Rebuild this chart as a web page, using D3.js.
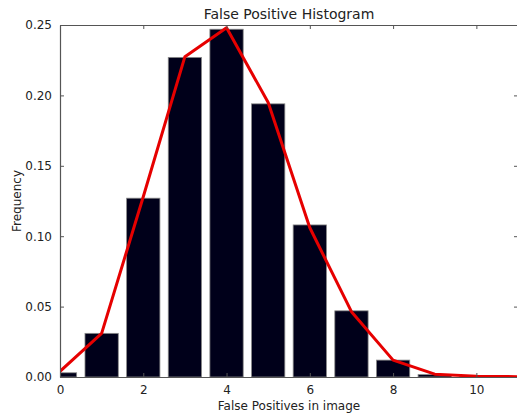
<!DOCTYPE html>
<html>
<head>
<meta charset="utf-8">
<script src="https://cdn.jsdelivr.net/npm/d3@7"></script>
<style>
  body { margin: 0; background: #fff; }
  svg text { font-family: "DejaVu Sans", sans-serif; fill: #222; }
</style>
</head>
<body>
<div id="chart"></div>
<script>
// histogram bins (number of false positives) and their frequencies
var bins = [0, 1, 2, 3, 4, 5, 6, 7, 8, 9, 10];
var barFreq = [0.003, 0.031, 0.127, 0.227, 0.247, 0.194, 0.108, 0.047, 0.012, 0.0017, 0.0004];
// red fitted curve
var fitX = [0, 1, 2, 3, 4, 5, 6, 7, 8, 9, 10, 11];
var fitY = [0.004, 0.031, 0.128, 0.2275, 0.248, 0.195, 0.106, 0.0464, 0.012, 0.002, 0.0006, 0.0002];
var xTicks = [0, 2, 4, 6, 8, 10];
var yTicks = [0, 0.05, 0.10, 0.15, 0.20, 0.25];

var W = 517, H = 416;
var margin = { top: 25, right: -1, bottom: 39, left: 60 },
    width = W - margin.left - margin.right,
    height = H - margin.top - margin.bottom;

var svg = d3.select("#chart").append("svg")
    .attr("width", W).attr("height", H);

var g = svg.append("g")
    .attr("transform", "translate(" + margin.left + "," + margin.top + ")");

var x = d3.scaleLinear().domain([0, 11]).range([0, width]);
var y = d3.scaleLinear().domain([0, 0.25]).range([height, 0]);

svg.append("clipPath").attr("id", "clip")
    .append("rect").attr("width", width).attr("height", height);

var plot = g.append("g").attr("clip-path", "url(#clip)");

// bars, width 0.8 centred on each bin
plot.selectAll("rect.bar")
    .data(bins)
    .enter().append("rect")
    .attr("class", "bar")
    .attr("x", function (d) { return x(d - 0.4); })
    .attr("width", x(0.8) - x(0))
    .attr("y", function (d, i) { return y(barFreq[i]); })
    .attr("height", function (d, i) { return y(0) - y(barFreq[i]); })
    .attr("fill", "#00001a")
    .attr("stroke", "#8a8a8a")
    .attr("stroke-width", 0.8);

var line = d3.line()
    .x(function (d, i) { return x(d); })
    .y(function (d, i) { return y(fitY[i]); });

plot.append("path")
    .datum(fitX)
    .attr("d", line)
    .attr("fill", "none")
    .attr("stroke", "#e60000")
    .attr("stroke-width", 3)
    .attr("stroke-linejoin", "round");

// axes, matplotlib classic style: inward ticks on all sides
var axBottom = g.append("g")
    .attr("transform", "translate(0," + height + ")")
    .call(d3.axisBottom(x).tickValues(xTicks).tickSizeInner(-4).tickSizeOuter(0).tickPadding(8));
var axTop = g.append("g")
    .call(d3.axisTop(x).tickValues(xTicks).tickSizeInner(-4).tickSizeOuter(0).tickFormat(""));
var axLeft = g.append("g")
    .call(d3.axisLeft(y).tickValues(yTicks).tickSizeInner(-4).tickSizeOuter(0).tickPadding(8)
        .tickFormat(d3.format(".2f")));
var axRight = g.append("g")
    .attr("transform", "translate(" + width + ",0)")
    .call(d3.axisRight(y).tickValues(yTicks).tickSizeInner(-4).tickSizeOuter(0).tickFormat(""));

[axBottom, axTop, axLeft, axRight].forEach(function (a) {
    a.attr("font-family", null).attr("font-size", null);
    a.select(".domain").attr("stroke", "#555").attr("stroke-width", 1.2);
    a.selectAll(".tick line").attr("stroke", "#555");
    a.selectAll("text").style("font-size", "12px").attr("fill", "#222");
});

// title and labels
svg.append("text")
    .attr("x", margin.left + x(5.5))
    .attr("y", 19)
    .attr("text-anchor", "middle")
    .style("font-size", "14px")
    .text("False Positive Histogram");

svg.append("text")
    .attr("x", margin.left + x(5.5))
    .attr("y", 410)
    .attr("text-anchor", "middle")
    .style("font-size", "12px")
    .text("False Positives in image");

svg.append("text")
    .attr("transform", "translate(21," + (margin.top + height / 2) + ") rotate(-90)")
    .attr("text-anchor", "middle")
    .style("font-size", "12px")
    .text("Frequency");
</script>
</body>
</html>
